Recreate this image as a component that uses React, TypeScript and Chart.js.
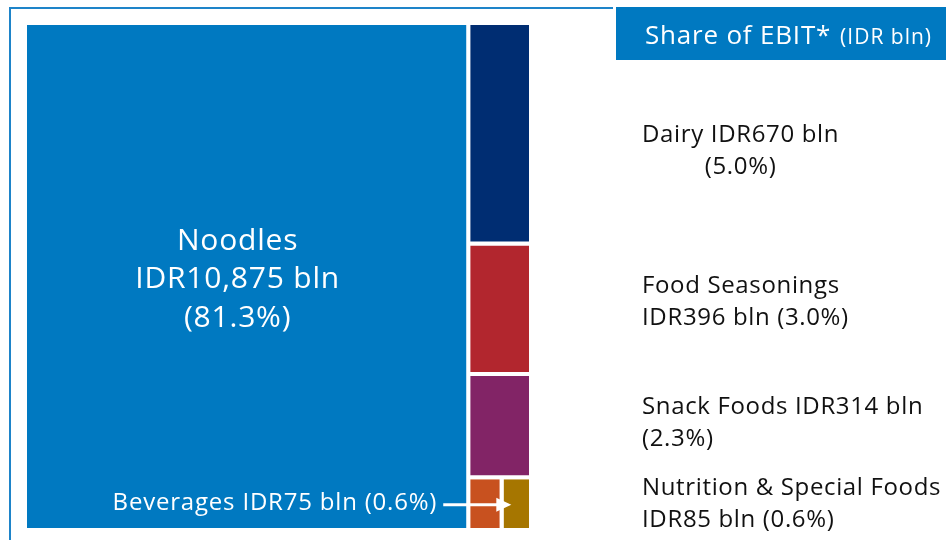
import React, { useEffect, useRef } from "react";
import { Chart, registerables } from "chart.js";
Chart.register(...registerables);

const categories = ["Noodles", "Dairy", "Food Seasonings", "Snack Foods", "Nutrition & Special Foods", "Beverages"];
const ebitValues = [10875, 670, 396, 314, 85, 75];
const sharePct = ["81.3%", "5.0%", "3.0%", "2.3%", "0.6%", "0.6%"];
const valueLabels = ["IDR10,875 bln", "IDR670 bln", "IDR396 bln", "IDR314 bln", "IDR85 bln", "IDR75 bln"];
const cellColors = ["#0079C1", "#002D72", "#B2262E", "#822466", "#C8511F", "#A67600"];
const titleMain = "Share of EBIT*";
const titleUnit = "(IDR bln)";

const FONT = "'Open Sans', sans-serif";

type Rect = { x0: number; x1: number; y0: number; y1: number };

function layout(values: number[]): Rect[] {
  const total = values.reduce((a, b) => a + b, 0);
  const w0 = values[0] / total;
  const rects: Rect[] = [{ x0: 0, x1: w0, y0: 0, y1: 1 }];
  const rest = total - values[0];
  let y = 0;
  for (let i = 1; i <= 3; i++) {
    const h = values[i] / rest;
    rects.push({ x0: w0, x1: 1, y0: y, y1: y + h });
    y += h;
  }
  const pair = values[4] + values[5];
  const xs = w0 + (1 - w0) * (values[4] / pair);
  rects.push({ x0: w0, x1: xs, y0: y, y1: 1 });
  rects.push({ x0: xs, x1: 1, y0: y, y1: 1 });
  return rects;
}

export default function App() {
  const ref = useRef<HTMLCanvasElement>(null);
  useEffect(() => {
    const rects = layout(ebitValues);
    const datasets = rects.map((r, i) => ({
      label: categories[i],
      data: [
        { x: r.x0, y: r.y0 },
        { x: r.x1, y: r.y0 },
        { x: r.x1, y: r.y1 },
        { x: r.x0, y: r.y1 },
        { x: r.x0, y: r.y0 },
      ],
      showLine: true,
      fill: "shape",
      backgroundColor: cellColors[i],
      borderColor: "#ffffff",
      borderWidth: 4,
      borderJoinStyle: "miter",
      pointRadius: 0,
      pointHoverRadius: 0,
      tension: 0,
    }));

    const decor = {
      id: "decor",
      beforeDraw(chart: any) {
        const ctx = chart.ctx;
        ctx.save();
        ctx.strokeStyle = "#1E84C9";
        ctx.lineWidth = 2;
        ctx.beginPath();
        ctx.moveTo(10, 540);
        ctx.lineTo(10, 8);
        ctx.lineTo(613, 8);
        ctx.stroke();
        ctx.fillStyle = "#0079C1";
        ctx.fillRect(616, 7, 330, 53);
        ctx.fillStyle = "#ffffff";
        ctx.textBaseline = "alphabetic";
        ctx.textAlign = "left";
        ctx.letterSpacing = "0.8px";
        ctx.font = `26px ${FONT}`;
        ctx.fillText(titleMain, 645, 44);
        const w = ctx.measureText(titleMain).width;
        ctx.font = `21px ${FONT}`;
        ctx.letterSpacing = "1px";
        ctx.fillText(titleUnit, 645 + w + 9, 44);
        ctx.restore();
      },
      afterDatasetsDraw(chart: any) {
        const ctx = chart.ctx;
        const xs = chart.scales.x;
        const ys = chart.scales.y;
        const px = (r: Rect) => ({
          l: xs.getPixelForValue(r.x0),
          r: xs.getPixelForValue(r.x1),
          t: ys.getPixelForValue(r.y0),
          b: ys.getPixelForValue(r.y1),
        });
        ctx.save();
        ctx.fillStyle = "#ffffff";
        ctx.letterSpacing = "0.8px";
        // Noodles label
        const n = px(rects[0]);
        const cx = (n.l + n.r) / 2 - 9;
        const cy = (n.t + n.b) / 2 + 3;
        ctx.font = `30px ${FONT}`;
        ctx.textAlign = "center";
        ctx.textBaseline = "middle";
        ctx.fillText(categories[0], cx, cy - 38);
        ctx.fillText(valueLabels[0], cx, cy);
        ctx.fillText(`(${sharePct[0]})`, cx, cy + 39);
        // Beverages callout
        const bv = px(rects[5]);
        const ay = (bv.t + bv.b) / 2 + 1;
        const tipX = (bv.l + bv.r) / 2 - 5;
        const startX = n.r - 25;
        ctx.strokeStyle = "#ffffff";
        ctx.lineWidth = 3;
        ctx.beginPath();
        ctx.moveTo(startX, ay);
        ctx.lineTo(tipX - 14, ay);
        ctx.stroke();
        ctx.beginPath();
        ctx.moveTo(tipX, ay);
        ctx.lineTo(tipX - 15, ay - 7);
        ctx.lineTo(tipX - 15, ay + 7);
        ctx.closePath();
        ctx.fill();
        ctx.font = `24px ${FONT}`;
        ctx.textAlign = "right";
        ctx.fillText(`${categories[5]} ${valueLabels[5]} (${sharePct[5]})`, startX - 6, ay - 2);

        // right-side annotations
        ctx.fillStyle = "#111111";
        ctx.font = `24px ${FONT}`;
        ctx.letterSpacing = "0.65px";
        ctx.textAlign = "left";
        const x0 = 642;
        const l1 = `${categories[1]} ${valueLabels[1]}`;
        ctx.fillText(l1, x0, 135);
        const w1 = ctx.measureText(l1).width;
        ctx.textAlign = "center";
        ctx.fillText(`(${sharePct[1]})`, x0 + w1 / 2, 167);
        ctx.textAlign = "left";
        ctx.fillText(categories[2], x0, 286);
        ctx.fillText(`${valueLabels[2]} (${sharePct[2]})`, x0, 318);
        ctx.fillText(`${categories[3]} ${valueLabels[3]}`, x0, 407);
        ctx.fillText(`(${sharePct[3]})`, x0, 439);
        ctx.fillText(categories[4], x0, 488);
        ctx.fillText(`${valueLabels[4]} (${sharePct[4]})`, x0, 520);
        ctx.restore();
      },
    };

    const chart = new Chart(ref.current as HTMLCanvasElement, {
      type: "scatter",
      data: { datasets: datasets as any },
      options: {
        responsive: false,
        animation: false,
        events: [],
        layout: { padding: { left: 25, top: 23, right: 415, bottom: 10 } },
        scales: {
          x: { type: "linear", min: 0, max: 1, display: false },
          y: { type: "linear", min: 0, max: 1, reverse: true, display: false },
        },
        plugins: { legend: { display: false }, tooltip: { enabled: false } },
      },
      plugins: [decor],
    });
    return () => chart.destroy();
  }, []);
  return (
    <div style={{ position: "fixed", left: 0, top: 0, width: 946, height: 540, background: "#ffffff" }}>
      <canvas ref={ref} width={946} height={540} style={{ display: "block" }} />
    </div>
  );
}
